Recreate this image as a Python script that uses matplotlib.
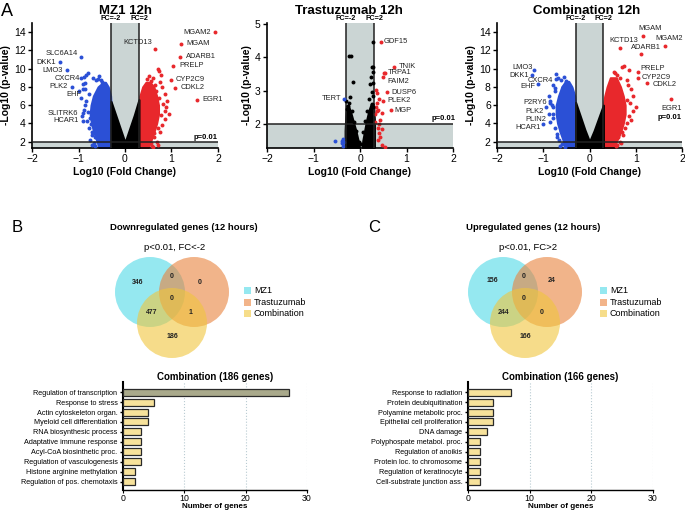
import matplotlib.pyplot as plt
from matplotlib.patches import Circle, Rectangle
from matplotlib.transforms import blended_transform_factory

plt.rcParams['font.family'] = ['Liberation Sans', 'DejaVu Sans']

W, H = 685, 513
BLUE = '#2b50d6'
RED = '#e8282c'
SHADE = '#cbd5d4'
FC = 0.301  # log10(2)

# ---------------- volcano data ----------------
# MZ1 12h
mz1_up_genes = ['MGAM2', 'MGAM', 'KCTD13', 'ADARB1', 'PRELP', 'CYP2C9', 'CDKL2', 'EGR1']
mz1_up_x = [1.93, 1.21, 0.64, 1.19, 1.04, 0.99, 1.07, 1.55]
mz1_up_y = [14.0, 12.7, 12.2, 11.3, 10.3, 8.7, 7.9, 6.6]
mz1_down_genes = ['SLC6A14', 'DKK1', 'LMO3', 'CXCR4', 'PLK2', 'EHF', 'SLITRK6', 'HCAR1']
mz1_down_x = [-0.95, -1.40, -1.24, -0.88, -1.15, -0.90, -0.91, -0.90]
mz1_down_y = [11.3, 10.7, 9.8, 9.1, 8.0, 7.8, 5.1, 4.3]
mz1_blue_x = [-0.84, -0.80, -0.95, -0.85, -0.90, -1.00, -0.95, -0.85, -0.88, -0.92, -0.82, -0.78,
              -0.70, -0.65, -0.68, -0.62, -0.57, -0.50, -0.45, -0.75, -0.72, -0.66, -0.70,
              -0.84, -0.80, -0.76, -0.64, -0.60, -0.55, -0.78, -0.86, -0.74, -0.52, -0.48]
mz1_blue_y = [9.3, 9.5, 9.0, 8.4, 8.3, 7.5, 6.8, 6.0, 5.5, 4.8, 4.3, 3.5,
              3.0, 2.5, 9.0, 8.8, 8.9, 8.5, 8.2, 2.2, 1.6, 1.9, 2.7,
              6.4, 5.2, 4.6, 1.5, 2.4, 9.2, 7.2, 7.8, 3.9, 8.8, 7.9]
mz1_red_x = [0.70, 0.73, 0.78, 0.75, 0.80, 0.85, 0.90, 0.88, 0.95, 0.85, 0.80, 0.75,
             0.62, 0.60, 0.55, 0.65, 0.68, 0.72, 0.58, 0.62, 0.82, 0.78, 0.70, 0.66,
             0.52, 0.48, 0.86, 0.74, 0.56, 0.60]
mz1_red_y = [10.0, 9.7, 9.3, 8.5, 8.0, 7.2, 6.5, 5.8, 5.0, 4.5, 3.8, 3.0,
             2.5, 9.0, 8.6, 8.2, 2.0, 1.6, 1.5, 2.9, 6.1, 4.9, 3.5, 7.6,
             9.2, 8.9, 5.4, 6.8, 1.8, 1.4]
mz1_v_x = [-0.30, -0.2, -0.1, 0.0, 0.1, 0.2, 0.30]
mz1_v_top = [6.4, 4.9, 3.4, 1.9, 3.4, 4.9, 6.6]
mz1_blue_env_y = [1.35, 2.0, 3.0, 4.0, 5.0, 6.0, 7.0, 8.0, 8.5]
mz1_blue_env_l = [-0.56, -0.60, -0.67, -0.72, -0.75, -0.73, -0.68, -0.58, -0.47]
mz1_blue_env_r = [-0.30, -0.30, -0.30, -0.30, -0.30, -0.30, -0.31, -0.36, -0.42]
mz1_red_env_y = [1.35, 2.0, 3.0, 4.0, 5.0, 6.0, 7.0, 8.0, 8.5]
mz1_red_env_l = [0.30, 0.30, 0.30, 0.30, 0.30, 0.30, 0.32, 0.38, 0.45]
mz1_red_env_r = [0.50, 0.55, 0.62, 0.68, 0.72, 0.72, 0.68, 0.62, 0.54]

# Trastuzumab 12h
tra_up_genes = ['GDF15', 'TNIK', 'TRPA1', 'FAIM2', 'DUSP6', 'PLEK2', 'MGP']
tra_up_x = [0.445, 0.74, 0.54, 0.49, 0.59, 0.49, 0.66]
tra_up_y = [4.47, 3.72, 3.54, 3.40, 2.95, 2.70, 2.42]
tra_down_genes = ['TERT']
tra_down_x = [-0.34]
tra_down_y = [2.75]
tra_red_x = [0.34, 0.37, 0.41, 0.36, 0.34, 0.39, 0.36, 0.47, 0.43, 0.39, 0.47, 0.41,
             0.43, 0.39, 0.47, 0.54, 0.41, 0.52, 0.32, 0.33]
tra_red_y = [3.02, 2.92, 2.74, 2.64, 2.52, 2.42, 2.38, 2.34, 2.12, 1.87, 1.84, 1.72,
             1.62, 1.52, 1.37, 1.31, 1.99, 3.54, 2.30, 2.05]
tra_blue_x = [-0.53, -0.38, -0.38, -0.36, -0.36, -0.34]
tra_blue_y = [1.48, 1.50, 1.42, 1.55, 1.35, 1.45]
tra_black_x = [-0.24, -0.20, -0.16, -0.22, -0.26, 0.27, 0.26, 0.29, 0.27, 0.24, 0.22, 0.26,
               0.20, 0.25, -0.28, -0.18, 0.29, 0.28, -0.12, -0.08, -0.03, 0.03, 0.07, 0.11,
               -0.30, -0.24, 0.16, 0.29]
tra_black_y = [4.04, 4.04, 3.27, 2.82, 2.55, 4.45, 3.72, 3.72, 3.57, 3.40, 3.20, 2.95,
               2.75, 2.60, 2.45, 2.40, 3.22, 2.85, 2.05, 1.80, 1.45, 1.40, 1.75, 2.10,
               2.70, 2.62, 2.40, 2.50]
tra_left_env_y = [1.30, 1.50, 1.80, 2.10, 2.35, 2.55]
tra_left_env_l = [-0.32, -0.32, -0.32, -0.31, -0.30, -0.29]
tra_left_env_r = [-0.01, -0.04, -0.09, -0.15, -0.20, -0.25]
tra_right_env_y = [1.30, 1.50, 1.80, 2.10, 2.40, 2.60]
tra_right_env_l = [0.05, 0.06, 0.10, 0.14, 0.19, 0.24]
tra_right_env_r = [0.31, 0.31, 0.31, 0.31, 0.30, 0.29]

# Combination 12h
com_up_genes = ['MGAM', 'MGAM2', 'KCTD13', 'ADARB1', 'PRELP', 'CYP2C9', 'CDKL2', 'EGR1']
com_up_x = [1.16, 1.63, 0.67, 1.11, 1.04, 1.04, 1.25, 1.77]
com_up_y = [13.6, 12.5, 12.3, 11.6, 9.6, 9.0, 8.4, 6.7]
com_down_genes = ['LMO3', 'DKK1', 'CXCR4', 'EHF', 'P2RY6', 'PLK2', 'PLIN2', 'HCAR1']
com_down_x = [-1.20, -1.24, -0.72, -1.12, -0.86, -0.93, -0.87, -1.00]
com_down_y = [9.8, 9.3, 8.9, 8.3, 6.2, 5.8, 5.0, 3.9]
com_blue_x = [-0.72, -0.68, -0.80, -0.75, -0.85, -0.80, -0.78, -0.85, -0.75, -0.70, -0.62,
              -0.58, -0.50, -0.88, -0.66, -0.60, -0.70, -0.64, -0.78, -0.82, -0.56, -0.52,
              -0.74, -0.62]
com_blue_y = [9.4, 9.0, 8.2, 7.5, 6.5, 5.8, 5.0, 4.2, 3.5, 2.8, 8.8,
              8.0, 8.6, 7.0, 2.2, 1.7, 2.5, 1.5, 4.6, 6.0, 9.1, 1.4,
              7.9, 3.2]
com_red_x = [0.70, 0.75, 0.85, 0.60, 0.65, 0.80, 0.90, 0.95, 0.88, 0.95, 0.85, 0.80,
             0.70, 0.62, 0.55, 1.00, 0.66, 0.60, 0.82, 0.90, 0.76, 0.72, 0.58, 0.52,
             0.84, 0.68]
com_red_y = [10.2, 10.3, 9.8, 9.3, 9.0, 8.8, 7.8, 7.0, 6.2, 5.4, 4.8, 4.0,
             3.0, 2.5, 9.5, 5.8, 2.0, 1.6, 6.6, 4.4, 3.5, 2.7, 1.5, 9.6,
             8.2, 1.8]
com_v_x = [-0.30, -0.2, -0.1, 0.0, 0.1, 0.2, 0.30]
com_v_top = [6.3, 4.8, 3.3, 2.0, 3.2, 4.6, 6.0]
com_blue_env_y = [1.35, 2.0, 3.0, 4.0, 5.0, 6.0, 7.0, 8.0, 8.6]
com_blue_env_l = [-0.53, -0.56, -0.63, -0.69, -0.72, -0.72, -0.67, -0.60, -0.52]
com_blue_env_r = [-0.30, -0.30, -0.30, -0.30, -0.30, -0.30, -0.32, -0.38, -0.45]
com_red_env_y = [1.35, 2.0, 3.0, 4.0, 5.0, 6.0, 7.0, 8.0, 9.0]
com_red_env_l = [0.30, 0.30, 0.30, 0.30, 0.30, 0.30, 0.33, 0.38, 0.45]
com_red_env_r = [0.53, 0.58, 0.67, 0.73, 0.77, 0.77, 0.73, 0.67, 0.58]

# label offsets (points) and alignment
mz1_offsets = {
    'MGAM2': (-3, 0, 'right'), 'MGAM': (4, 0, 'left'), 'KCTD13': (-2, 4, 'right'),
    'ADARB1': (4, 0, 'left'), 'PRELP': (4, 0, 'left'), 'CYP2C9': (3, 1, 'left'),
    'CDKL2': (4, 0, 'left'), 'EGR1': (4, 0, 'left'),
    'SLC6A14': (-2, 2, 'right'), 'DKK1': (-3, 0, 'right'), 'LMO3': (-3, 0, 'right'),
    'CXCR4': (-3, -1, 'right'), 'PLK2': (-3, 0, 'right'), 'EHF': (-1, -4, 'right'),
    'SLITRK6': (-3, 0, 'right'), 'HCAR1': (-3, 0, 'right'),
}
tra_offsets = {
    'GDF15': (2, 0, 'left'), 'TNIK': (3, 0, 'left'), 'TRPA1': (2, 0, 'left'),
    'FAIM2': (3, -3, 'left'), 'DUSP6': (3, 0, 'left'), 'PLEK2': (3, 0, 'left'),
    'MGP': (3, 0, 'left'), 'TERT': (-2, 0, 'right'),
}
com_offsets = {
    'MGAM': (5, 5, 'center'), 'MGAM2': (3, 5, 'center'), 'KCTD13': (2, 5, 'center'),
    'ADARB1': (4, 5, 'center'), 'PRELP': (2, 3, 'left'), 'CYP2C9': (3, 0, 'left'),
    'CDKL2': (4, -1, 'left'), 'EGR1': (0, -7, 'center'),
    'LMO3': (-1, 2, 'right'), 'DKK1': (-2, 0, 'right'), 'CXCR4': (-2, -1, 'right'),
    'EHF': (-2, -2, 'right'), 'P2RY6': (-2, 0.5, 'right'), 'PLK2': (-2, -3, 'right'),
    'PLIN2': (-2, -3.5, 'right'), 'HCAR1': (-2, -2.5, 'right'),
}

# ---------------- Venn / GO bar data ----------------
venn_down = {'346': (138, 282), '0a': (172, 276), '0b': (200, 282), '0c': (172, 298),
             '477': (152, 312), '1': (191, 312), '186': (172, 337)}
venn_up = {'156': (492, 281), '0a': (524, 276), '24': (552, 281), '0c': (524, 298),
           '244': (503, 312), '0b': (542, 312), '166': (525, 337)}
down_terms = ['Regulation of transcription', 'Response to stress', 'Actin cytoskeleton organ.',
              'Myeloid cell differentiation', 'RNA biosynthesic process',
              'Adaptative immune response', 'Acyl-CoA biosinthetic proc.',
              'Regulation of vasculogenesis', 'Histone arginine methylation',
              'Regulation of pos. chemotaxis']
down_counts = [27, 5, 4, 4, 3, 3, 3, 3, 2, 2]
up_terms = ['Response to radiation', 'Protein deubiquitination', 'Polyamine metabolic proc.',
            'Epithelial cell proliferation', 'DNA damage', 'Polyphospate metabol. proc.',
            'Regulation of anoikis', 'Protein loc. to chromosome',
            'Regulation of keratinocyte', 'Cell-substrate junction ass.']
up_counts = [7, 4, 4, 4, 3, 2, 2, 2, 2, 2]

fig = plt.figure(figsize=(W / 100, H / 100), dpi=100)


def px_axes(l, t, r, b):
    return fig.add_axes([l / W, 1 - b / H, (r - l) / W, (b - t) / H])


def volcano(ax, ylim, yticks, v, blue_env, red_env, blue_pts, red_pts,
            up, down, offsets, p_pos, title_x, title):
    ax.set_xlim(-2, 2)
    ax.set_ylim(*ylim)
    ax.axvspan(-FC, FC, color=SHADE, lw=0, zorder=0)
    ax.axhspan(ylim[0], 2, color=SHADE, lw=0, zorder=0)
    for env, col in ((blue_env, BLUE), (red_env, RED)):
        ey, el, er = env
        ax.fill_betweenx(ey, el, er, color=col, lw=1.5, edgecolor=col, zorder=2)
    if v is not None:
        for vx, vt in v:
            ax.fill_between(vx, ylim[0], vt, color='black', lw=1.5, edgecolor='black', zorder=2)
    ax.scatter(blue_pts[0], blue_pts[1], s=8, color=BLUE, lw=0, zorder=3)
    ax.scatter(red_pts[0], red_pts[1], s=8, color=RED, lw=0, zorder=3)
    for genes, xs, ys, col in (up + (RED,), down + (BLUE,)):
        ax.scatter(xs, ys, s=8, color=col, lw=0, zorder=4)
        for g, x, y in zip(genes, xs, ys):
            dx, dy, ha = offsets[g]
            ax.annotate(g, (x, y), xytext=(dx, dy), textcoords='offset points',
                        ha=ha, va='center', fontsize=5.4, color='#222222', zorder=5)
    ax.axvline(-FC, color='#222222', lw=1.1, zorder=3)
    ax.axvline(FC, color='#222222', lw=1.1, zorder=3)
    ax.axhline(2, color='#222222', lw=1.1, zorder=3)
    tr = blended_transform_factory(ax.transData, ax.transAxes)
    ax.text(-FC, 1.005, 'FC=-2', transform=tr, ha='center', va='bottom',
            fontsize=5.2, fontweight='bold')
    ax.text(FC, 1.005, 'FC=2', transform=tr, ha='center', va='bottom',
            fontsize=5.2, fontweight='bold')
    ax.text(p_pos[0], p_pos[1], 'p=0.01', ha='right', va='bottom', fontsize=5.5,
            fontweight='bold', clip_on=False)
    ax.set_xticks([-2, -1, 0, 1, 2])
    ax.set_yticks(yticks)
    ax.tick_params(labelsize=7.5, length=3, width=1, pad=1.5)
    for s in ('top', 'right'):
        ax.spines[s].set_visible(False)
    for s in ('left', 'bottom'):
        ax.spines[s].set_linewidth(1.2)
    ax.set_xlabel('Log10 (Fold Change)', fontsize=7.5, fontweight='bold', labelpad=2)
    ax.set_ylabel('-Log10 (p-value)', fontsize=7.5, fontweight='bold', labelpad=2)
    fig.text(title_x / W, 1 - 10.5 / H, title, ha='center', va='center',
             fontsize=9.5, fontweight='bold')


ax1 = px_axes(32, 23, 218, 148)
volcano(ax1, (1.3, 15), range(2, 16, 2), [(mz1_v_x, mz1_v_top)],
        (mz1_blue_env_y, mz1_blue_env_l, mz1_blue_env_r),
        (mz1_red_env_y, mz1_red_env_l, mz1_red_env_r),
        (mz1_blue_x, mz1_blue_y), (mz1_red_x, mz1_red_y),
        (mz1_up_genes, mz1_up_x, mz1_up_y), (mz1_down_genes, mz1_down_x, mz1_down_y),
        mz1_offsets, (1.98, 2.1), 126, 'MZ1 12h')

ax2 = px_axes(267, 23, 453, 148)
volcano(ax2, (1.28, 5.03), [2, 3, 4, 5], None,
        ([1.3], [0], [0]), ([1.3], [0], [0]),
        (tra_blue_x, tra_blue_y), (tra_red_x, tra_red_y),
        (tra_up_genes, tra_up_x, tra_up_y), (tra_down_genes, tra_down_x, tra_down_y),
        tra_offsets, (2.05, 2.05), 349, 'Trastuzumab 12h')
ax2.fill_betweenx(tra_left_env_y, tra_left_env_l, tra_left_env_r, color='black',
                  lw=1.5, edgecolor='black', zorder=2)
ax2.fill_betweenx(tra_right_env_y, tra_right_env_l, tra_right_env_r, color='black',
                  lw=1.5, edgecolor='black', zorder=2)
ax2.scatter(tra_black_x, tra_black_y, s=8, color='black', lw=0, zorder=3)

ax3 = px_axes(497, 23, 682, 148)
volcano(ax3, (1.3, 15), range(2, 16, 2), [(com_v_x, com_v_top)],
        (com_blue_env_y, com_blue_env_l, com_blue_env_r),
        (com_red_env_y, com_red_env_l, com_red_env_r),
        (com_blue_x, com_blue_y), (com_red_x, com_red_y),
        (com_up_genes, com_up_x, com_up_y), (com_down_genes, com_down_x, com_down_y),
        com_offsets, (1.98, 4.3), 587, 'Combination 12h')

# ---------------- Venn diagrams (overlay in pixel coords) ----------------
ov = fig.add_axes([0, 0, 1, 1])
ov.set_xlim(0, W)
ov.set_ylim(H, 0)
ov.axis('off')
ov.patch.set_visible(False)

venn_colors = ['#4fd9e6', '#e9823c', '#f0c63c']
legend_colors = ['#95e8f0', '#f2b48a', '#f6dd8a']
legend_names = ['MZ1', 'Trastuzumab', 'Combination']


def venn(cx, counts, title, subtitle, title_x, leg_x):
    r = 35
    centres = [(cx - 22, 292), (cx + 22, 292), (cx, 323)]
    for (x, y), c in zip(centres, venn_colors):
        ov.add_patch(Circle((x, y), r, facecolor=c, edgecolor='none', alpha=0.6))
    for key, (x, y) in counts.items():
        ov.text(x, y, key.rstrip('abc'), ha='center', va='center', fontsize=5,
                fontweight='bold', color='#222222')
    ov.text(title_x, 227, title, ha='center', va='center', fontsize=6.8, fontweight='bold')
    ov.text(cx + 3, 248, subtitle, ha='center', va='center', fontsize=6.8)
    for i, (name, c) in enumerate(zip(legend_names, legend_colors)):
        y = 290.5 + i * 11.7
        ov.add_patch(Rectangle((leg_x, y - 3.5), 7, 7, facecolor=c, edgecolor='none'))
        ov.text(leg_x + 10, y, name, ha='left', va='center', fontsize=6.5)


venn(172, venn_down, 'Downregulated genes (12 hours)', 'p<0.01, FC<-2', 184, 244)
venn(525, venn_up, 'Upregulated genes (12 hours)', 'p<0.01, FC>2', 533, 600)

ov.text(1, 11, 'A', ha='left', va='center', fontsize=13)
ov.text(12, 227, 'B', ha='left', va='center', fontsize=12)
ov.text(368, 227, 'C', ha='left', va='center', fontsize=12)


# ---------------- GO bar charts ----------------
def go_bars(ax, terms, counts, title, colors):
    ypos = range(len(terms))
    ax.barh(ypos, counts, height=0.7, color=colors, edgecolor='#2a2a2a', lw=0.9, zorder=3)
    ax.set_xlim(0, 30)
    ax.set_ylim(9.82, -1.01)
    ax.set_yticks(list(ypos))
    ax.set_yticklabels(terms, fontsize=5.2)
    ax.set_xticks([0, 10, 20, 30])
    ax.tick_params(axis='x', labelsize=6.3, length=2.5, pad=0.5)
    ax.tick_params(axis='y', length=2.5, width=1, pad=1.5)
    ax.grid(axis='x', color='#b9cbd2', ls=':', lw=0.8, zorder=0)
    for s in ('top', 'right'):
        ax.spines[s].set_visible(False)
    ax.spines['left'].set_linewidth(1.5)
    ax.spines['bottom'].set_linewidth(1.0)
    ax.set_title(title, fontsize=7, fontweight='bold', pad=1)
    ax.set_xlabel('Number of genes', fontsize=5.8, fontweight='bold', labelpad=0)


axb = px_axes(123, 382, 307, 490)
go_bars(axb, down_terms, down_counts, 'Combination (186 genes)',
        ['#a9a98b'] + ['#f7e29b'] * 9)
axc = px_axes(468, 382, 653, 490)
go_bars(axc, up_terms, up_counts, 'Combination (166 genes)', ['#f7e29b'] * 10)

fig.savefig('out.png', dpi=100)
